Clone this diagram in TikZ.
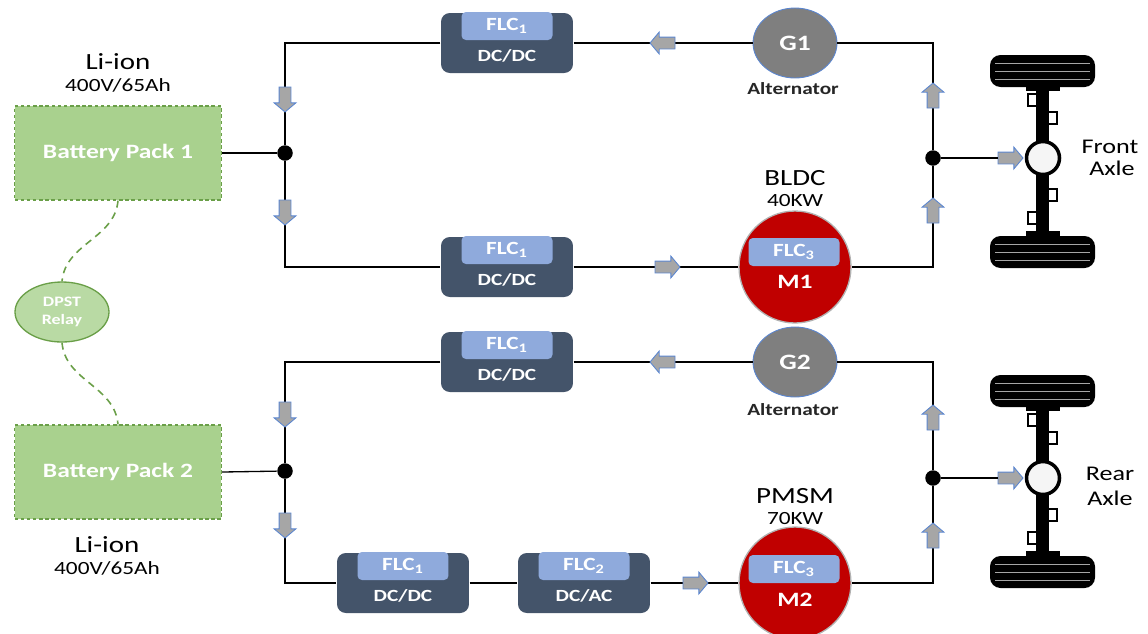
\documentclass[tikz,border=0pt]{standalone}
\usepackage{fontspec}
\setmainfont{Carlito}[FakeStretch=1.25]
\usetikzlibrary{shapes.geometric,shapes.arrows}

\definecolor{slate}{HTML}{44546A}
\definecolor{flcblue}{HTML}{8FAADC}
\definecolor{gengray}{HTML}{7F7F7F}
\definecolor{motorred}{HTML}{C00000}
\definecolor{packgreen}{HTML}{A9D18E}
\definecolor{relaygreen}{HTML}{B9DAA4}
\definecolor{packline}{HTML}{6A9F48}
\definecolor{arrowgray}{HTML}{A6A6A6}
\definecolor{arrowblue}{HTML}{5B86D0}

\begin{document}
\begin{tikzpicture}[x=0.02cm, y=-0.02cm, line width=0.75pt,
		conv/.style={fill=slate, rounded corners=5pt, minimum width=2.64cm, minimum height=1.2cm, inner sep=0pt},
		flc/.style={fill=flcblue, rounded corners=2.5pt, minimum width=1.82cm, minimum height=0.56cm, inner sep=0pt,
			text=white, font=\fontsize{10.6}{12}\selectfont\bfseries},
		convtxt/.style={text=white, inner sep=0pt, font=\fontsize{9.7}{11}\selectfont\bfseries},
		gen/.style={ellipse, fill=gengray, draw=arrowblue, line width=0.5pt, minimum width=1.68cm, minimum height=1.4cm,
			inner sep=0pt, text=white, font=\fontsize{12.5}{14}\selectfont\bfseries},
		motor/.style={circle, fill=motorred, draw=gray!60, minimum size=2.24cm, inner sep=0pt},
		mtxt/.style={text=white, inner sep=0pt, font=\fontsize{11.6}{13}\selectfont\bfseries},
		pack/.style={draw=packline, dash pattern=on 2pt off 1.5pt, fill=packgreen, minimum width=4.14cm, minimum height=1.88cm,
			text=white, font=\fontsize{11.6}{13}\selectfont\bfseries},
		relay/.style={ellipse, draw=packline, fill=relaygreen, minimum width=1.88cm, minimum height=1.2cm, inner sep=0pt,
			align=center, text=white, font=\fontsize{8.2}{10}\selectfont\bfseries},
		junc/.style={circle, fill=black, minimum size=0.31cm, inner sep=0pt},
		flow/.style={single arrow, draw=arrowblue, fill=arrowgray, line width=0.5pt, inner xsep=0pt, inner ysep=0.11cm,
			minimum height=0.5cm, single arrow head extend=0.1cm, single arrow tip angle=100},
		link/.style={packline, dash pattern=on 4pt off 3pt, line width=0.9pt},
		hub/.style={circle, draw=black, fill=gray!8, line width=2pt, minimum size=0.66cm, inner sep=0pt},
		bigtxt/.style={font=\fontsize{13.2}{15}\selectfont},
		smalltxt/.style={font=\fontsize{10.6}{12}\selectfont},
		alttxt/.style={text=black!85, font=\fontsize{9.7}{11}\selectfont\bfseries},
		axtxt/.style={font=\fontsize{11.9}{13}\selectfont}
	]
	\useasboundingbox (0,0) rectangle (1148,633);
	\clip (0,0) rectangle (1148,633);

	% converters, FLC tag on top
	\foreach \nm/\px/\py/\k/\txt in {c1/507/43/1/{DC/DC}, c2/507/267/1/{DC/DC}, c3/507/362/1/{DC/DC},
		c4/403/583/1/{DC/DC}, c5/584/583/2/{DC/AC}} {
		\node[conv] (\nm) at (\px,\py) {};
		\node[flc] (\nm f) at (\px,\py-17) {FLC\textsubscript{\k}};
		\node[convtxt] (\nm t) at (\px,\py+13) {\txt};
	}

	% alternators
	\node[gen] (g1) at (795,43) {G1};
	\node[alttxt] (g1l) at (793,89) {Alternator};
	\node[gen] (g2) at (795,362) {G2};
	\node[alttxt] (g2l) at (793,410) {Alternator};

	% motors
	\node[motor] (m1) at (795,267) {};
	\node[flc] (m1f) at (794,252) {FLC\textsubscript{3}};
	\node[mtxt] (m1t) at (795,282) {M1};
	\node[bigtxt] (m1n) at (795,178) {BLDC};
	\node[smalltxt] (m1p) at (795,201) {40KW};
	\node[motor] (m2) at (795,583) {};
	\node[flc] (m2f) at (794,569) {FLC\textsubscript{3}};
	\node[mtxt] (m2t) at (795,600) {M2};
	\node[bigtxt] (m2n) at (795,496) {PMSM};
	\node[smalltxt] (m2p) at (795,519) {70KW};

	% batteries and relay
	\node[pack] (bp1) at (118,153) {Battery Pack 1};
	\node[bigtxt] (bp1n) at (118,62) {Li-ion};
	\node[smalltxt] (bp1v) at (118,85) {400V/65Ah};
	\node[pack] (bp2) at (118,472) {Battery Pack 2};
	\node[bigtxt] (bp2n) at (107,545) {Li-ion};
	\node[smalltxt] (bp2v) at (107,568) {400V/65Ah};
	\node[relay] (rl) at (62,312) {DPST\\Relay};
	\draw[link] (bp1.south) to[out=-95, in=85] (rl.north);
	\draw[link] (rl.south) to[out=-85, in=95] (bp2.north);

	% junctions
	\node[junc] (j1) at (285,153) {};
	\node[junc] (j2) at (933,158) {};
	\node[junc] (j3) at (285,471) {};
	\node[junc] (j4) at (933,478) {};

	% front half wiring
	\draw (bp1.east) -- (j1);
	\draw (c1.west) -| (j1) |- (c2.west);
	\draw (c1.east) -- (g1.west);
	\draw (c2.east) -- (m1.west);
	\draw (g1.east) -| (j2) |- (m1.east);

	% rear half wiring
	\draw (bp2.east) -- (j3);
	\draw (c3.west) -| (j3) |- (c4.west);
	\draw (c3.east) -- (g2.west);
	\draw (c4.east) -- (c5.west);
	\draw (c5.east) -- (m2.west);
	\draw (g2.east) -| (j4) |- (m2.east);

	% axles
	\foreach \ay/\nm in {158/1, 478/2} {
		\begin{scope}[shift={(1043,\ay)}]
			\fill[rounded corners=6pt] (-53,-103) rectangle (52,-71); % wheels
			\fill[rounded corners=6pt] (-53,78) rectangle (52,110);
			\foreach \ty in {-95,-87,-79,86,94,102}
				\draw[gray!70, line width=0.4pt] (-48,\ty) -- (47,\ty);
			\fill (-17,-72) rectangle (17,-67);
			\fill (-17,73) rectangle (17,78);
			\fill (-7,-68) rectangle (6,74); % shaft
			\draw[line width=1.1pt] (-7,-64) -- (-15,-64) -- (-15,-52) -- (-7,-52);
			\draw[line width=1.1pt] (-7,54) -- (-15,54) -- (-15,66) -- (-7,66);
			\draw[line width=1.1pt] (6,-46) -- (14,-46) -- (14,-34) -- (6,-34);
			\draw[line width=1.1pt] (6,31) -- (14,31) -- (14,43) -- (6,43);
		\end{scope}
		\node[hub] (hub\nm) at (1043,\ay) {};
		\node[flow] (fa\nm) at (1008,\ay) {};
	}
	\draw (j2) -- (fa1.tail);
	\draw (j4) -- (fa2.tail);
	\node[axtxt] (ax1a) at (1110,147) {Front};
	\node[axtxt] (ax1b) at (1112,168) {Axle};
	\node[axtxt] (ax2a) at (1110,474) {Rear};
	\node[axtxt] (ax2b) at (1110,498) {Axle};

	% power flow
	\foreach \nm/\px/\py/\r in {f1/665/43/180, f2/665/267/0, f3/665/362/180, f4/693/583/0,
		f5/285/97/-90, f6/285/210/-90, f7/285/412/-90, f8/285/523/-90,
		f9/933/98/90, f10/933/213/90, f11/933/420/90, f12/933/538/90}
		\node[flow, rotate=\r] (\nm) at (\px,\py) {};
\end{tikzpicture}
\end{document}
